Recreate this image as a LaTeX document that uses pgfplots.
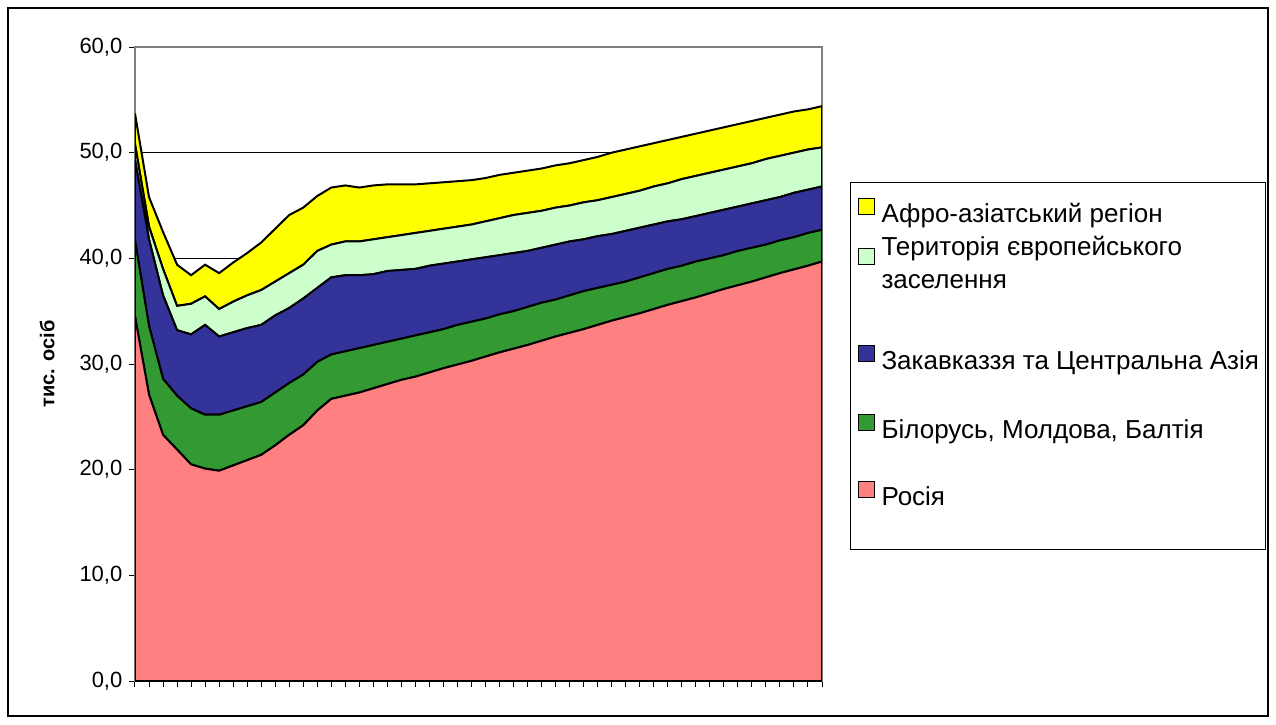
\documentclass[border=0pt]{standalone}
\usepackage{fontspec}
\setmainfont{Liberation Sans}
\usepackage{pgfplots}
\pgfplotsset{compat=1.18}
\usepackage{pgfplotstable}
\definecolor{cR}{HTML}{FF8080}
\definecolor{cB}{HTML}{339933}
\definecolor{cZ}{HTML}{333399}
\definecolor{cT}{HTML}{CCFFCC}
\definecolor{cA}{HTML}{FFFF00}
\pgfplotstableread{
i R B Z T A
0 34.5 7.2 7.6 1.5 2.9
1 27.1 6.5 8.2 1.2 2.8
2 23.3 5.3 7.9 2.5 3.5
3 21.9 5.1 6.2 2.3 3.9
4 20.5 5.3 7.0 2.9 2.7
5 20.1 5.1 8.5 2.7 3.0
6 19.9 5.3 7.4 2.6 3.4
7 20.4 5.2 7.4 2.9 3.7
8 20.9 5.1 7.4 3.1 4.0
9 21.4 5.0 7.3 3.3 4.5
10 22.3 5.0 7.3 3.2 5.0
11 23.3 4.9 7.1 3.3 5.5
12 24.2 4.8 7.2 3.2 5.4
13 25.6 4.6 7.0 3.5 5.2
14 26.7 4.2 7.3 3.1 5.4
15 27.0 4.2 7.2 3.2 5.3
16 27.3 4.2 6.9 3.2 5.1
17 27.7 4.1 6.7 3.3 5.1
18 28.1 4.0 6.7 3.2 5.0
19 28.5 3.9 6.5 3.3 4.8
20 28.8 3.9 6.3 3.4 4.6
21 29.2 3.8 6.3 3.3 4.5
22 29.6 3.7 6.2 3.3 4.4
23 29.95 3.75 6.0 3.3 4.3
24 30.3 3.7 5.9 3.3 4.2
25 30.7 3.6 5.8 3.4 4.1
26 31.1 3.6 5.6 3.5 4.1
27 31.45 3.55 5.5 3.6 4.0
28 31.8 3.6 5.3 3.6 4.0
29 32.2 3.6 5.2 3.5 4.0
30 32.6 3.5 5.2 3.5 4.0
31 32.95 3.55 5.1 3.4 4.0
32 33.3 3.6 4.9 3.5 4.0
33 33.7 3.5 4.9 3.4 4.1
34 34.1 3.4 4.8 3.5 4.2
35 34.45 3.35 4.8 3.5 4.2
36 34.8 3.4 4.7 3.5 4.2
37 35.2 3.4 4.6 3.6 4.1
38 35.6 3.4 4.5 3.6 4.1
39 35.95 3.35 4.4 3.8 4.0
40 36.3 3.4 4.3 3.8 4.0
41 36.7 3.3 4.3 3.8 4.0
42 37.1 3.2 4.3 3.8 4.0
43 37.45 3.25 4.2 3.8 4.0
44 37.8 3.2 4.2 3.8 4.0
45 38.2 3.1 4.2 3.9 3.9
46 38.6 3.1 4.1 3.9 3.9
47 38.95 3.05 4.2 3.8 3.9
48 39.3 3.1 4.1 3.8 3.8
49 39.7 3.0 4.1 3.7 3.9
}\data
\pgfplotsset{leg/.style={legend image code/.code={%
  \draw[##1, line width=0.5pt] (0pt,0pt) rectangle (8pt,8pt);
  \path[draw=none, fill=none] (0pt,-#1) (0pt,10pt);}}}
\begin{document}
\begin{tikzpicture}
\path (0,0) rectangle (638pt,362pt);
\draw[line width=0.6pt] (4pt,4pt) rectangle (634pt,358pt);
\begin{axis}[
  at={(67.5pt,21.5pt)}, anchor=south west,
  width=343.5pt, height=317pt, scale only axis,
  xmin=0, xmax=49, ymin=0, ymax=60,
  stack plots=y,
  xtick={0,...,49}, xticklabels={,,},
  xticklabel style={text opacity=0},
  ytick={0,10,...,60},
  tick align=outside, tick pos=left,
  major tick length=2.8pt,
  tick style={black, line width=0.5pt},
  axis line style={gray, line width=0.6pt},
  ymajorgrids, major grid style={black, line width=0.5pt},
  /pgf/number format/assume math mode=true,
  yticklabel style={/pgf/number format/.cd, fixed, fixed zerofill, precision=1, use comma},
  ticklabel style={font=\fontsize{11}{13}\selectfont},
  ylabel={\textbf{тис. осіб}},
  ylabel style={font=\fontsize{10}{12}\selectfont, at={(axis description cs:-0.128,0.5)}, anchor=center},
  reverse legend,
  legend cell align=left,
  legend style={at={(axis description cs:1.0408,0.787)}, anchor=north west,
    draw=black, line width=0.5pt, inner xsep=3.5pt, inner ysep=6pt,
    row sep=5pt, font=\fontsize{13}{16.5}\selectfont,
    nodes={align=left, inner sep=0pt, outer sep=0pt},
    column sep=3.5pt},
]
\addplot[fill=cR, draw=black, line width=1pt, leg=20pt] table[x=i, y=R]{\data} \closedcycle;
\addlegendentry{Росія}
\addplot[fill=cB, draw=black, line width=1pt, leg=18.5pt] table[x=i, y=B]{\data} \closedcycle;
\addlegendentry{Білорусь, Молдова, Балтія}
\addplot[fill=cZ, draw=black, line width=1pt, leg=19.5pt] table[x=i, y=Z]{\data} \closedcycle;
\addlegendentry{Закавказзя та Центральна Азія}
\addplot[fill=cT, draw=black, line width=1pt, leg=33.5pt] table[x=i, y=T]{\data} \closedcycle;
\addlegendentry{Територія європейського\\заселення}
\addplot[fill=cA, draw=black, line width=1pt, leg=6pt] table[x=i, y=A]{\data} \closedcycle;
\addlegendentry{Афро-азіатський регіон}
\end{axis}
\end{tikzpicture}
\end{document}
